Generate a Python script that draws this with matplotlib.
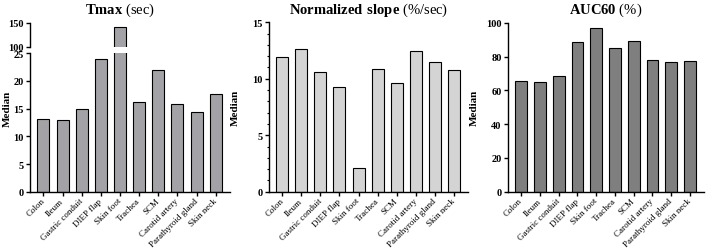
import numpy as np
import matplotlib
matplotlib.use('Agg')
from matplotlib import pyplot as plt
from matplotlib.ticker import MultipleLocator

plt.rcParams['font.family'] = 'Liberation Serif'
plt.rcParams['mathtext.fontset'] = 'custom'
plt.rcParams['mathtext.rm'] = 'Liberation Serif'
plt.rcParams['mathtext.bf'] = 'Liberation Serif:bold'

# dados (mediana)
tecidos = ['Colon', 'Ileum', 'Gastric conduit', 'DIEP flap', 'Skin foot',
           'Trachea', 'SCM', 'Carotid artery', 'Parathyroid gland', 'Skin neck']
tmax = [13.2, 12.9, 15.0, 23.9, 141.0, 16.2, 21.9, 15.9, 14.4, 17.7]
slope = [11.95, 12.6, 10.6, 9.3, 2.1, 10.85, 9.65, 12.5, 11.45, 10.8]
auc60 = [65.6, 65.0, 68.8, 88.9, 97.2, 85.0, 89.1, 77.9, 76.7, 77.3]

x = np.arange(len(tecidos))
W = 0.63
fs_tick = 7.5
fs_xlab = 6.5
fs_lab = 8
fs_title = 10.5

fig = plt.figure(figsize=(7.08, 2.51), dpi=100)


def estilo(ax, xlabels=True):
    for s in ['top', 'right']:
        ax.spines[s].set_visible(False)
    for s in ['left', 'bottom']:
        ax.spines[s].set_linewidth(1.0)
    ax.tick_params(axis='both', labelsize=fs_tick, width=1.0, length=3, pad=1.5)
    ax.tick_params(axis='x', pad=2.5)
    for lb in ax.get_yticklabels():
        lb.set_fontweight('bold')
    ax.set_xlim(-0.7, 9.75)
    if xlabels:
        ax.set_xticks(x)
        ax.set_xticklabels(tecidos, rotation=45, ha='right', va='center',
                           rotation_mode='anchor', fontsize=fs_xlab)


# ---- Tmax, eixo quebrado
ax_lo = fig.add_axes([0.0424, 0.2323, 0.2825, 0.5514])
ax_hi = fig.add_axes([0.0424, 0.8102, 0.2825, 0.0942])
cor1 = '#a3a3a7'
ax_lo.bar(x, tmax, width=W, color=cor1, edgecolor='black', linewidth=0.8)
ax_hi.bar(x, tmax, width=W, color=cor1, edgecolor='black', linewidth=0.8)
ax_lo.set_ylim(0, 25)
ax_lo.set_yticks([0, 5, 10, 15, 20, 25])
ax_hi.set_ylim(100, 150)
ax_hi.set_yticks([100, 150])
estilo(ax_lo)
estilo(ax_hi, xlabels=False)
ax_hi.spines['bottom'].set_visible(False)
ax_hi.set_xticks([])
fig.text(0.011, 0.565, 'Median', rotation=90, ha='center', va='center',
         fontsize=fs_lab, fontweight='bold')
fig.text(120 / 708, 1 - 10 / 251, r'$\bf{Tmax}$ (sec)', ha='center', va='center',
         fontsize=fs_title)

# ---- Normalized slope
ax2 = fig.add_axes([0.380, 0.2323, 0.281, 0.675])
ax2.bar(x, slope, width=W, color='#d4d4d4', edgecolor='black', linewidth=0.8)
ax2.set_ylim(0, 15)
ax2.set_yticks([0, 5, 10, 15])
ax2.yaxis.set_minor_locator(MultipleLocator(1))
ax2.tick_params(axis='y', which='minor', length=1.8, width=0.8)
estilo(ax2)
ax2.set_ylabel('Median', fontsize=fs_lab, fontweight='bold', labelpad=9)
ax2.set_title(r'$\bf{Normalized\ slope}$ (%/sec)', fontsize=fs_title, pad=7)

# ---- AUC60
ax3 = fig.add_axes([0.7175, 0.2323, 0.277, 0.6723])
ax3.bar(x, auc60, width=W, color='#7f7f7f', edgecolor='black', linewidth=0.8)
ax3.set_ylim(0, 100)
ax3.set_yticks([0, 20, 40, 60, 80, 100])
estilo(ax3)
ax3.set_ylabel('Median', fontsize=fs_lab, fontweight='bold', labelpad=5)
ax3.set_title(r'$\bf{AUC60}$ (%)', fontsize=fs_title, pad=7)

plt.savefig('out.png', dpi=100)
